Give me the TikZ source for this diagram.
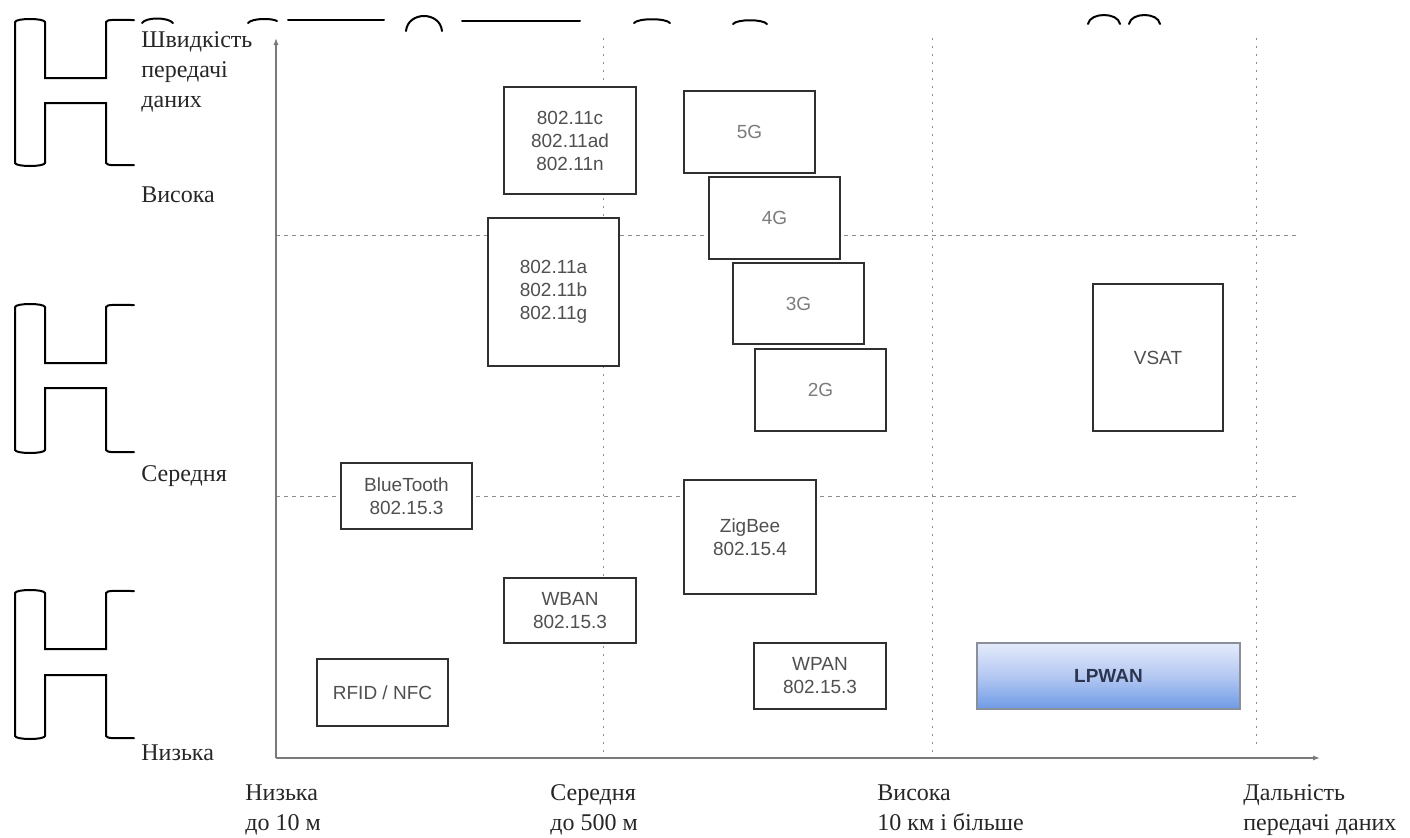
\documentclass[tikz,border=0pt]{standalone}
\usepackage{fontspec}
\setmainfont{Liberation Serif}
\newfontfamily\boxfont{Liberation Sans}
\usetikzlibrary{arrows.meta}
\definecolor{boxtext}{HTML}{505050}
\definecolor{boxline}{HTML}{303030}
\definecolor{axisgray}{HTML}{7A7A7A}
\definecolor{gridgray}{HTML}{8C8C8C}
\definecolor{lptop}{HTML}{E4EAFB}
\definecolor{lpmid}{HTML}{B4C8F2}
\definecolor{lpbot}{HTML}{6E9BE6}
\definecolor{lpline}{HTML}{8A9099}
\definecolor{lptext}{HTML}{2B3550}
\tikzset{
  tb/.style 2 args={draw=boxline, line width=0.8pt, fill=white, inner sep=0pt,
    minimum width=#1*0.5pt, minimum height=#2*0.5pt, align=center,
    text=boxtext, font=\boxfont\fontsize{9.5}{11.5}\selectfont},
  gtext/.style={text=boxtext!75},
  lbl/.style={anchor=base west, inner sep=0pt, align=left, text=black!85,
    font=\fontsize{12}{15}\selectfont},
  axisline/.style={draw=axisgray, line width=0.7pt, -{Latex[length=3.5pt,width=2.6pt]}},
  hgrid/.style={draw=gridgray, line width=0.4pt, dash pattern=on 2pt off 2pt},
  vgrid/.style={draw=gridgray, line width=0.4pt, dash pattern=on 1pt off 3pt},
  scrib/.style={draw=black, line width=1pt, line cap=round},
}
\begin{document}
\begin{tikzpicture}[x=0.5pt,y=-0.5pt]
\useasboundingbox (0,0) rectangle (1410,837);

% grid coordinates
\coordinate (h1a) at (276,235);  \coordinate (h1b) at (1298,235);
\coordinate (h2a) at (276,496);  \coordinate (h2b) at (1298,496);
\coordinate (v1a) at (603,38);   \coordinate (v1b) at (603,758);
\coordinate (v2a) at (932,38);   \coordinate (v2b) at (932,758);
\coordinate (v3a) at (1256,38);  \coordinate (v3b) at (1256,745);
\draw[hgrid] (h1a) -- (h1b);
\draw[hgrid] (h2a) -- (h2b);
\draw[vgrid] (v1a) -- (v1b);
\draw[vgrid] (v2a) -- (v2b);
\draw[vgrid] (v3a) -- (v3b);

% axes
\coordinate (o) at (276,758);
\coordinate (ytip) at (276,38);
\coordinate (xtip) at (1320,758);
\draw[axisline] (o) -- (ytip);
\draw[axisline] (o) -- (xtip);

% boxes
\node[tb={132}{107}] (wifiH) at (570,140.5) {802.11c\\802.11ad\\802.11n};
\node[tb={131}{148}] (wifiL) at (553.5,292) {802.11a\\802.11b\\802.11g};
\node[tb={131}{82}, gtext] (g5) at (749.5,132) {5G};
\node[tb={131}{82}, gtext] (g4) at (774.5,218) {4G};
\node[tb={131}{81}, gtext] (g3) at (798.5,303.5) {3G};
\node[tb={131}{82}, gtext] (g2) at (820.5,390) {2G};
\node[tb={130}{147}] (vsat) at (1158,357.5) {VSAT};
\node[tb={131}{66}] (bt) at (406.5,496) {BlueTooth\\802.15.3};
\node[tb={132}{114}] (zig) at (750,537) {ZigBee\\802.15.4};
\node[tb={132}{65}] (wban) at (570,610.5) {WBAN\\802.15.3};
\node[tb={131}{67}] (rfid) at (382.5,692.5) {RFID / NFC};
\node[tb={132}{66}] (wpan) at (820,676) {WPAN\\802.15.3};
\node[draw=lpline, line width=0.6pt, inner sep=0pt,
      minimum width=131.5pt, minimum height=33pt,
      top color=lptop, bottom color=lpbot, middle color=lpmid,
      text=lptext, font=\boxfont\bfseries\fontsize{9.5}{11}\selectfont] (lpwan) at (1108.5,676) {LPWAN};

% axis labels (base anchor = baseline of the last line)
\node[lbl] (ylab) at (141,107) {Швидкість\\передачі\\даних};
\node[lbl] (yhi) at (141,202) {Висока};
\node[lbl] (ymid) at (141,481) {Середня};
\node[lbl] (ylo) at (141,760) {Низька};
\node[lbl] (xlo) at (245,830) {Низька\\до 10 м};
\node[lbl] (xmid) at (550,830) {Середня\\до 500 м};
\node[lbl] (xhi) at (877,830) {Висока\\10 км і більше};
\node[lbl] (xlab) at (1243,830) {Дальність\\передачі даних};

% bracket shapes on the left
\foreach \T/\ya/\yb/\B in {20/78/103/165, 305/363/388/452, 591/649/675/738}{
  \draw[scrib] (15,\T+2) -- (15,\B-2)
     .. controls (16,\B+2) and (44,\B+2) .. (45,\B-2)
     -- (45,\yb) -- (106,\yb) -- (106,\B-2)
     .. controls (107,\B+1) and (116,\B) .. (134,\B);
  \draw[scrib] (15,\T+2) .. controls (16,\T-2) and (44,\T-2) .. (45,\T+2)
     -- (45,\ya) -- (106,\ya) -- (106,\T+2)
     .. controls (107,\T-1) and (116,\T) .. (134,\T);
}
% scan marks along the top edge
\draw[scrib] (142,23) .. controls (146,17) and (168,17) .. (173,23);
\draw[scrib] (248,23) .. controls (252,18) and (272,18) .. (277,21);
\draw[scrib] (288,20) -- (384,20);
\draw[scrib] (406,31) .. controls (408,11) and (440,11) .. (442,31);
\draw[scrib] (462,21) -- (580,21);
\draw[scrib] (634,23) .. controls (638,18) and (666,18) .. (670,23);
\draw[scrib] (733,24) .. controls (737,19) and (763,19) .. (767,24);
\draw[scrib] (1088,24) .. controls (1090,12) and (1118,12) .. (1120,24);
\draw[scrib] (1129,24) .. controls (1131,12) and (1158,12) .. (1160,24);
\end{tikzpicture}
\end{document}
